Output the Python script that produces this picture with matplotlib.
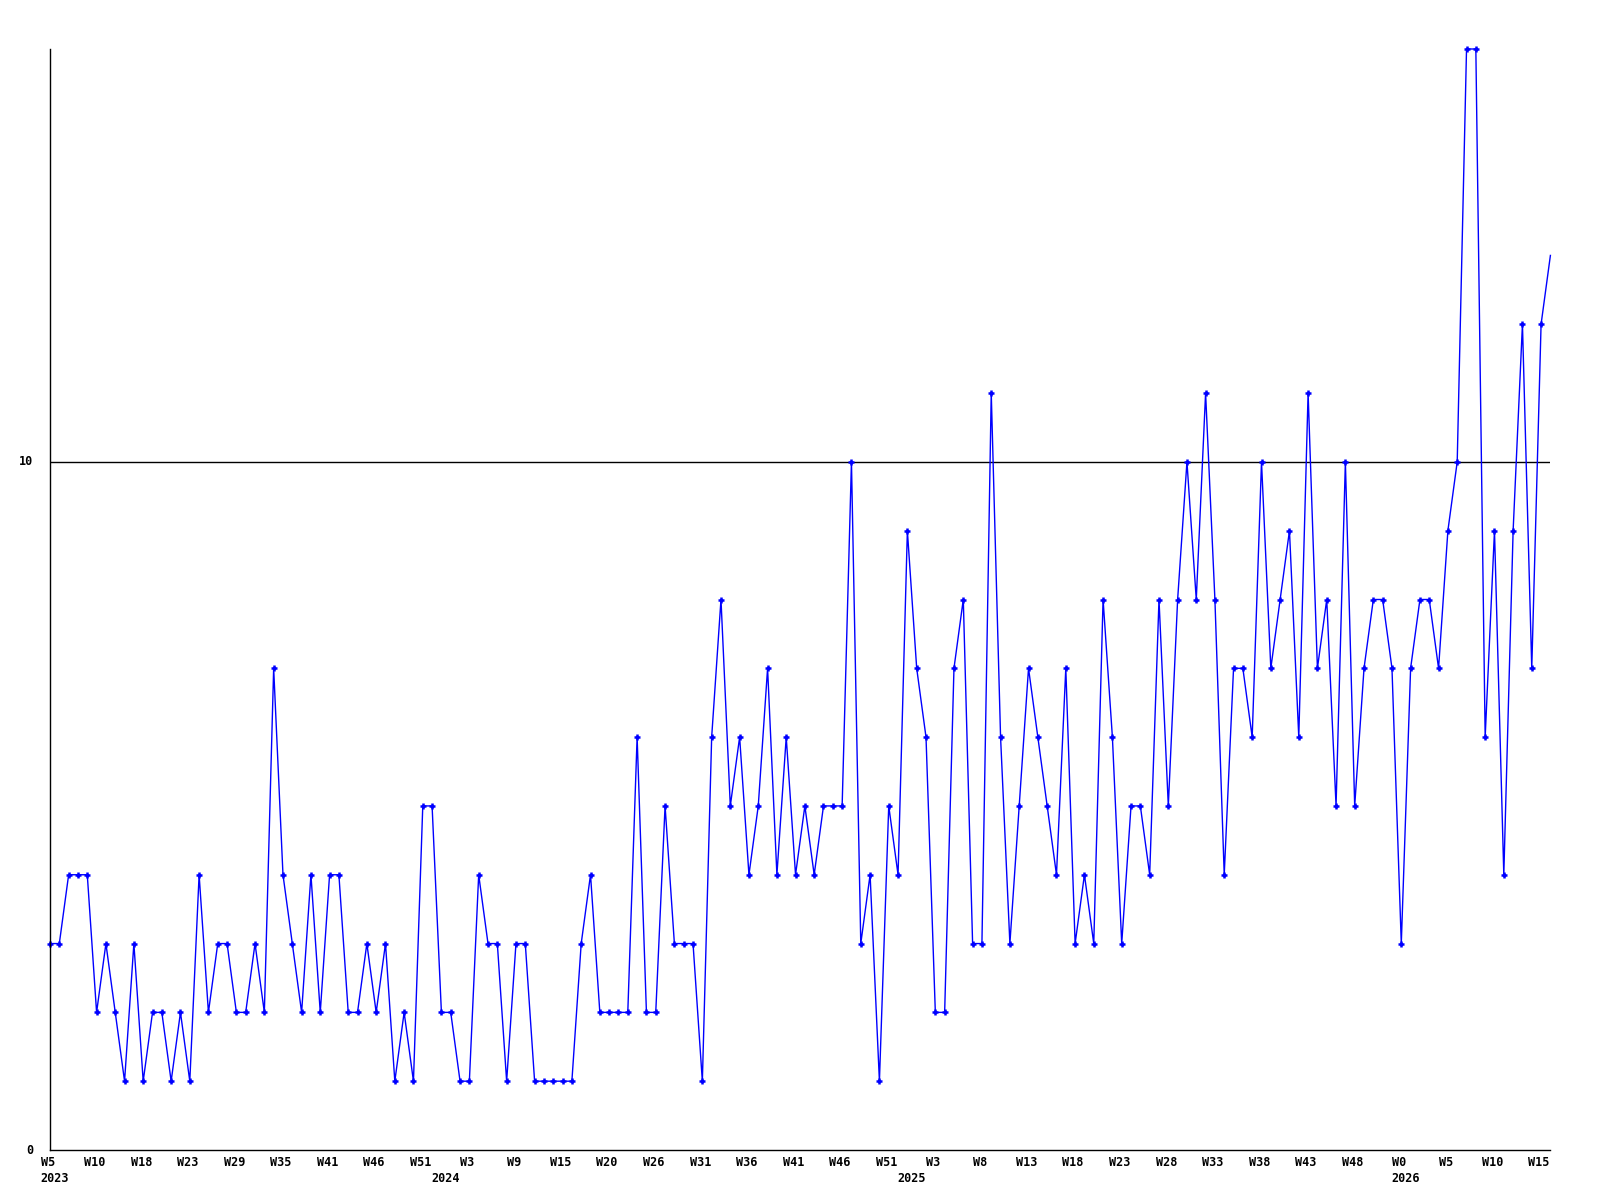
import matplotlib
matplotlib.use("Agg")
import matplotlib.pyplot as plt

# weekly counts, one value per point
valores = [3, 3, 4, 4, 4, 2, 3, 2, 1, 3, 1, 2, 2, 1, 2, 1, 4, 2, 3, 3,
           2, 2, 3, 2, 7, 4, 3, 2, 4, 2, 4, 4, 2, 2, 3, 2, 3, 1, 2, 1,
           5, 5, 2, 2, 1, 1, 4, 3, 3, 1, 3, 3, 1, 1, 1, 1, 1, 3, 4, 2,
           2, 2, 2, 6, 2, 2, 5, 3, 3, 3, 1, 6, 8, 5, 6, 4, 5, 7, 4, 6,
           4, 5, 4, 5, 5, 5, 10, 3, 4, 1, 5, 4, 9, 7, 6, 2, 2, 7, 8, 3,
           3, 11, 6, 3, 5, 7, 6, 5, 4, 7, 3, 4, 3, 8, 6, 3, 5, 5, 4, 8,
           5, 8, 10, 8, 11, 8, 4, 7, 7, 6, 10, 7, 8, 9, 6, 11, 7, 8, 5, 10,
           5, 7, 8, 8, 7, 3, 7, 8, 8, 7, 9, 10, 16, 16, 6, 9, 4, 9, 12, 7,
           12, 13]

semanas = ["W5", "W10", "W18", "W23", "W29", "W35", "W41", "W46", "W51",
           "W3", "W9", "W15", "W20", "W26", "W31", "W36", "W41", "W46", "W51",
           "W3", "W8", "W13", "W18", "W23", "W28", "W33", "W38", "W43", "W48",
           "W0", "W5", "W10", "W15"]
anios = ["2023", "2024", "2025", "2026"]
pos_anios = [0, 42, 92, 145]

ymax = 16
linea_ref = 10

fig = plt.figure(figsize=(16, 12), dpi=100)
ax = fig.add_axes([0.03125, 1 - 1150 / 1200, 0.969 - 0.03125, (1150 - 49) / 1200])

x = list(range(len(valores)))
ax.plot(x, valores, color="#0000ff", linewidth=1.0, marker="+", markersize=5,
        markeredgewidth=1.8, markevery=list(range(len(valores) - 1)), clip_on=False)
ax.axhline(linea_ref, color="black", linewidth=1.0, zorder=1)

ax.set_xlim(0, len(valores) - 1)
ax.set_ylim(0, ymax)

for lado in ["top", "right"]:
    ax.spines[lado].set_visible(False)
ax.spines["left"].set_linewidth(1.0)
ax.spines["bottom"].set_linewidth(1.0)
ax.set_xticks([])
ax.set_yticks([])

fuente = dict(family="DejaVu Sans Mono", fontweight="bold", fontsize=8.5)

# y labels
for v in [0, linea_ref]:
    ax.annotate(str(v), xy=(0, v), xycoords=("axes fraction", "data"),
                xytext=(-17, 0), textcoords="offset pixels",
                ha="right", va="center", **fuente)

# week labels every 5 points
for i, s in enumerate(semanas):
    ax.annotate(s, xy=(i * 5, 0), xycoords=("data", "axes fraction"),
                xytext=(-2, -12), textcoords="offset pixels",
                ha="center", va="center", **fuente)

# year labels
for p, a in zip(pos_anios, anios):
    ax.annotate(a, xy=(p, 0), xycoords=("data", "axes fraction"),
                xytext=(-10, -28), textcoords="offset pixels",
                ha="left", va="center", **fuente)

fig.savefig("out.png", dpi=100)
